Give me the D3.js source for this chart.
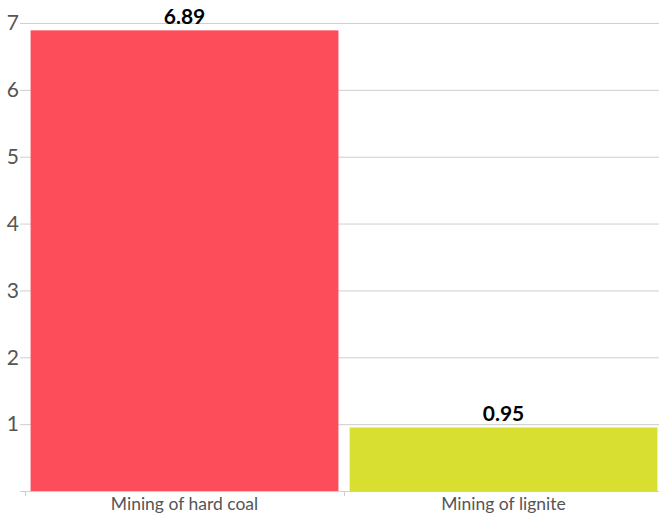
<!DOCTYPE html>
<html>
<head>
<meta charset="utf-8">
<script src="https://cdn.jsdelivr.net/npm/d3@7"></script>
<style>
  html, body { margin: 0; padding: 0; background: #fff; }
  svg { display: block; font-family: Lato, "Open Sans", sans-serif; }
</style>
</head>
<body>
<svg id="chart" width="659" height="516"></svg>
<script>
// Categories and values
const categories = ["Mining of hard coal", "Mining of lignite"];
const values = [6.89, 0.95];
const barColors = ["#fd4c5a", "#d9df31"];
const yTicks = [1, 2, 3, 4, 5, 6, 7];

const svg = d3.select("#chart");
const width = 659, height = 516;
const margin = { top: 23, right: -4, bottom: 25, left: 25 };

const x = d3.scaleBand()
  .domain(categories)
  .range([margin.left, width - margin.right])
  .paddingInner(0.035)
  .paddingOuter(0.0175);

const y = d3.scaleLinear()
  .domain([0, 7])
  .range([height - margin.bottom, margin.top]);

// Horizontal gridlines
svg.append("g")
  .selectAll("line")
  .data(yTicks)
  .join("line")
  .attr("x1", margin.left)
  .attr("x2", width)
  .attr("y1", d => y(d) + 0.5)
  .attr("y2", d => y(d) + 0.5)
  .attr("stroke", "#cfcfcf")
  .attr("stroke-width", 1);

// Y axis
const yAxis = svg.append("g")
  .attr("transform", `translate(${margin.left},0)`)
  .call(d3.axisLeft(y).tickValues(yTicks).tickSize(5).tickPadding(1).tickFormat(d3.format("d")));
yAxis.select(".domain").remove();
yAxis.selectAll(".tick line").attr("stroke", "#cfcfcf");
yAxis.selectAll(".tick text")
  .attr("fill", "#555")
  .style("font-size", "21px")
  .style("font-family", "Lato, sans-serif");

// Bars
svg.append("g")
  .selectAll("rect")
  .data(values)
  .join("rect")
  .attr("x", (d, i) => x(categories[i]))
  .attr("width", x.bandwidth())
  .attr("y", d => y(d))
  .attr("height", d => y(0) - y(d))
  .attr("fill", (d, i) => barColors[i]);

// Value labels
svg.append("g")
  .selectAll("text")
  .data(values)
  .join("text")
  .attr("x", (d, i) => x(categories[i]) + x.bandwidth() / 2)
  .attr("y", d => y(d) - 6)
  .attr("text-anchor", "middle")
  .attr("fill", "#000")
  .style("font-size", "21px")
  .style("font-weight", "bold")
  .text(d => d3.format(".2f")(d));

// X axis with ticks at band boundaries
const xAxisG = svg.append("g")
  .attr("transform", `translate(0,${y(0)})`);
xAxisG.append("line")
  .attr("x1", margin.left - 5)
  .attr("x2", width)
  .attr("y1", 0.5)
  .attr("y2", 0.5)
  .attr("stroke", "#cfcfcf");
const step = x.step();
const boundaries = categories.map((c, i) => margin.left + i * step);
xAxisG.selectAll("line.b")
  .data(boundaries)
  .join("line")
  .attr("class", "b")
  .attr("x1", d => d + 0.5)
  .attr("x2", d => d + 0.5)
  .attr("y1", 0)
  .attr("y2", 5)
  .attr("stroke", "#cfcfcf");
xAxisG.selectAll("text")
  .data(categories)
  .join("text")
  .attr("x", d => x(d) + x.bandwidth() / 2)
  .attr("y", 19)
  .attr("text-anchor", "middle")
  .attr("fill", "#555")
  .style("font-size", "17.5px")
  .text(d => d);
</script>
</body>
</html>
